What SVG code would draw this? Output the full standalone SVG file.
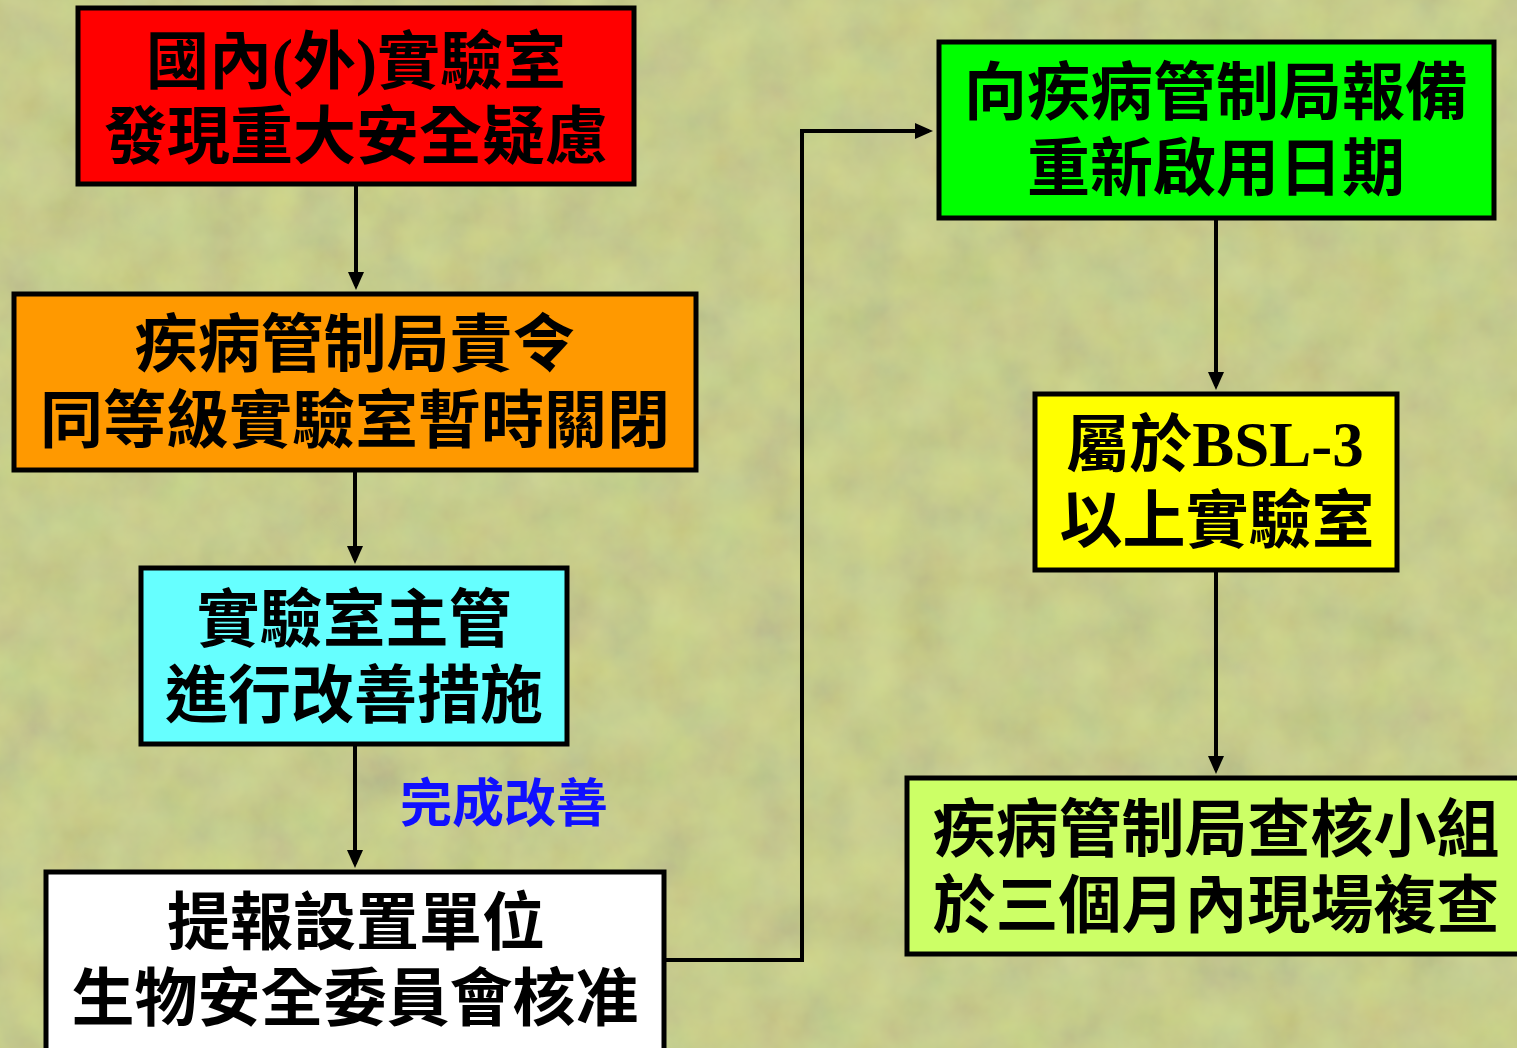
<svg xmlns="http://www.w3.org/2000/svg" width="1517" height="1048" viewBox="0 0 1517 1048">
<defs>
<style>
.box{stroke:#000;stroke-width:5}
.t{font-family:"Noto Sans CJK TC","Noto Sans CJK SC",sans-serif;font-weight:700;font-size:63px;fill:#000;text-anchor:middle}
.s{font-family:"Liberation Serif",serif;font-weight:700}
.c{fill:none;stroke:#000;stroke-width:4}
.lbl{font-family:"Noto Sans CJK TC","Noto Sans CJK SC",sans-serif;font-weight:700;font-size:52px;fill:#1010ff}
</style>
<marker id="ah" markerUnits="userSpaceOnUse" markerWidth="18" markerHeight="16" refX="14" refY="8" orient="auto">
<path d="M0,0 L18,8 L0,16 z" fill="#000"/>
</marker>
<filter id="tex" x="0" y="0" width="100%" height="100%">
<feTurbulence type="fractalNoise" baseFrequency="0.02" numOctaves="4" seed="7"/>
<feColorMatrix type="matrix" values="0.6 0.4 0 0 0  0.3 0.9 0 0 0  0 0.2 0.4 0 0  0 0 0 0 0.2"/>
</filter>
</defs>
<rect width="1517" height="1048" fill="#c9cc8a"/>
<rect width="1517" height="1048" filter="url(#tex)"/>

<g id="connectors">
<path class="c" d="M356,186 V286" marker-end="url(#ah)"/>
<path class="c" d="M355,472 V560" marker-end="url(#ah)"/>
<path class="c" d="M355,746 V864" marker-end="url(#ah)"/>
<path class="c" d="M666,960 H802 V131 H929" marker-end="url(#ah)"/>
<path class="c" d="M1216,220 V386" marker-end="url(#ah)"/>
<path class="c" d="M1216,572 V770" marker-end="url(#ah)"/>
<text class="lbl" x="400" y="822">完成改善</text>
</g>

<g id="n1">
<rect class="box" x="78" y="8" width="556" height="176" fill="#ff0000"/>
<text class="t"><tspan x="356" y="83">國內<tspan class="s">(</tspan>外<tspan class="s">)</tspan>實驗室</tspan><tspan x="356" y="158">發現重大安全疑慮</tspan></text>
</g>
<g id="n2">
<rect class="box" x="14" y="294" width="682" height="176" fill="#ff9900"/>
<text class="t"><tspan x="355" y="366">疾病管制局責令</tspan><tspan x="355" y="442">同等級實驗室暫時關閉</tspan></text>
</g>
<g id="n3">
<rect class="box" x="141" y="568" width="426" height="176" fill="#66ffff"/>
<text class="t"><tspan x="354" y="641">實驗室主管</tspan><tspan x="354" y="717">進行改善措施</tspan></text>
</g>
<g id="n4">
<rect class="box" x="46" y="872" width="618" height="180" fill="#ffffff"/>
<text class="t"><tspan x="356" y="944">提報設置單位</tspan><tspan x="355" y="1020">生物安全委員會核准</tspan></text>
</g>
<g id="n5">
<rect class="box" x="939" y="42" width="555" height="176" fill="#00ff00"/>
<text class="t"><tspan x="1216" y="114">向疾病管制局報備</tspan><tspan x="1216" y="190">重新啟用日期</tspan></text>
</g>
<g id="n6">
<rect class="box" x="1035" y="394" width="362" height="176" fill="#ffff00"/>
<text class="t"><tspan x="1215" y="466">屬於<tspan class="s">BSL-3</tspan></tspan><tspan x="1217" y="542">以上實驗室</tspan></text>
</g>
<g id="n7">
<rect class="box" x="907" y="778" width="620" height="176" fill="#ccff66"/>
<text class="t"><tspan x="1216" y="851">疾病管制局查核小組</tspan><tspan x="1216" y="927">於三個月內現場複查</tspan></text>
</g>
</svg>
